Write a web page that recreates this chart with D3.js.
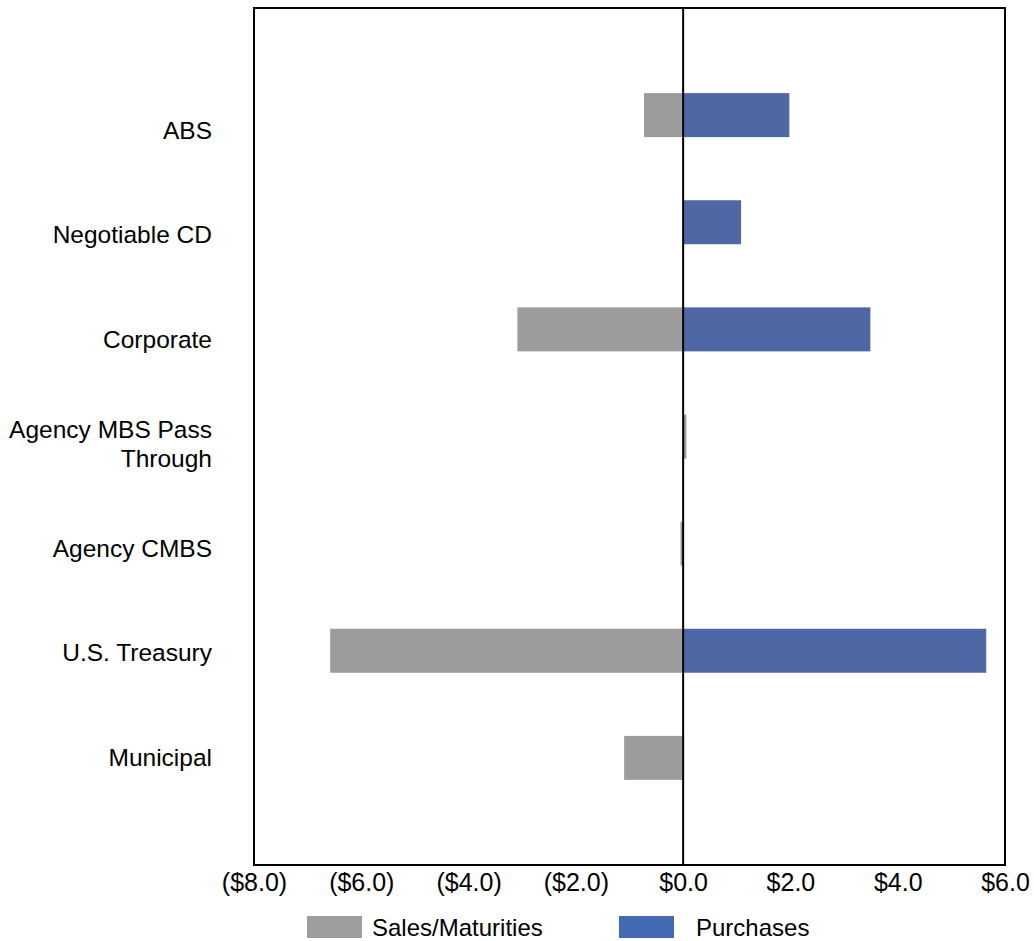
<!DOCTYPE html>
<html>
<head>
<meta charset="utf-8">
<script src="https://cdn.jsdelivr.net/npm/d3@7"></script>
<style>
  html, body { margin: 0; padding: 0; background: #fff; }
  svg text { font-family: "Liberation Sans", Arial, sans-serif; fill: #000; }
</style>
</head>
<body>
<svg id="chart" width="1034" height="941"></svg>
<script>
const categories = ["ABS", "Negotiable CD", "Corporate", "Agency MBS Pass Through", "Agency CMBS", "U.S. Treasury", "Municipal"];
const categoryLines = [["ABS"], ["Negotiable CD"], ["Corporate"], ["Agency MBS Pass", "Through"], ["Agency CMBS"], ["U.S. Treasury"], ["Municipal"]];
const salesMaturities = [-0.73, 0, -3.09, 0.06, -0.05, -6.58, -1.10];
const purchases = [1.98, 1.08, 3.49, 0, 0, 5.65, 0];
const xTicks = [-8, -6, -4, -2, 0, 2, 4, 6];
const seriesNames = ["Sales/Maturities", "Purchases"];

const svg = d3.select("#chart");
const plot = { left: 254, right: 1005, top: 8, bottom: 865 };

const x = d3.scaleLinear().domain([-8, 6]).range([plot.left, plot.right]);
const y = d3.scalePoint().domain(categories).range([plot.top, plot.bottom]).padding(1);
const yLabel = d3.scalePoint().domain(categories).range([130, 757]);
const barH = 44;

const fmt = v => v < 0 ? "($" + Math.abs(v).toFixed(1) + ")" : "$" + v.toFixed(1);

const colors = { sales: "#9c9c9c", purch: "#5067a6" };
const legendColors = ["#9e9e9e", "#4169b4"];

// bars
const gBars = svg.append("g");
gBars.selectAll("rect.sales").data(categories).join("rect")
  .attr("class", "sales")
  .attr("x", (d, i) => x(Math.min(0, salesMaturities[i])))
  .attr("width", (d, i) => Math.abs(x(salesMaturities[i]) - x(0)))
  .attr("y", d => y(d) - barH / 2)
  .attr("height", barH)
  .attr("fill", colors.sales);
gBars.selectAll("rect.purch").data(categories).join("rect")
  .attr("class", "purch")
  .attr("x", (d, i) => x(Math.min(0, purchases[i])))
  .attr("width", (d, i) => Math.abs(x(purchases[i]) - x(0)))
  .attr("y", d => y(d) - barH / 2)
  .attr("height", barH)
  .attr("fill", colors.purch);

// zero line
svg.append("line")
  .attr("x1", x(0)).attr("x2", x(0))
  .attr("y1", plot.top).attr("y2", plot.bottom)
  .attr("stroke", "#000").attr("stroke-width", 2);

// frame
svg.append("rect")
  .attr("x", plot.left).attr("y", plot.top)
  .attr("width", plot.right - plot.left).attr("height", plot.bottom - plot.top)
  .attr("fill", "none").attr("stroke", "#000").attr("stroke-width", 2);

// x axis
const xAxis = d3.axisBottom(x).tickValues(xTicks).tickFormat(fmt).tickSize(0).tickPadding(8);
const gx = svg.append("g").attr("transform", `translate(0,${plot.bottom})`).call(xAxis);
gx.select(".domain").remove();
gx.selectAll("text").style("font-size", "25px").style("font-family", "'Liberation Sans', Arial, sans-serif").attr("fill", "#000");

// y labels
const gy = svg.append("g");
categories.forEach((c, i) => {
  const lines = categoryLines[i];
  const lh = 29;
  const t = gy.append("text")
    .attr("x", 212)
    .attr("text-anchor", "end")
    .style("font-size", "24.5px");
  lines.forEach((ln, j) => {
    t.append("tspan")
      .attr("x", 212)
      .attr("y", yLabel(c) + (j - (lines.length - 1) / 2) * lh)
      .attr("dy", "0.35em")
      .text(ln);
  });
});

// legend
const legendX = [307, 619];
const legendTextX = [372, 696];
seriesNames.forEach((s, i) => {
  svg.append("rect")
    .attr("x", legendX[i]).attr("y", 916)
    .attr("width", 55).attr("height", 22)
    .attr("fill", legendColors[i]);
  svg.append("text")
    .attr("x", legendTextX[i]).attr("y", 928)
    .attr("dy", "0.35em")
    .style("font-size", "24px")
    .text(s);
});
</script>
</body>
</html>
